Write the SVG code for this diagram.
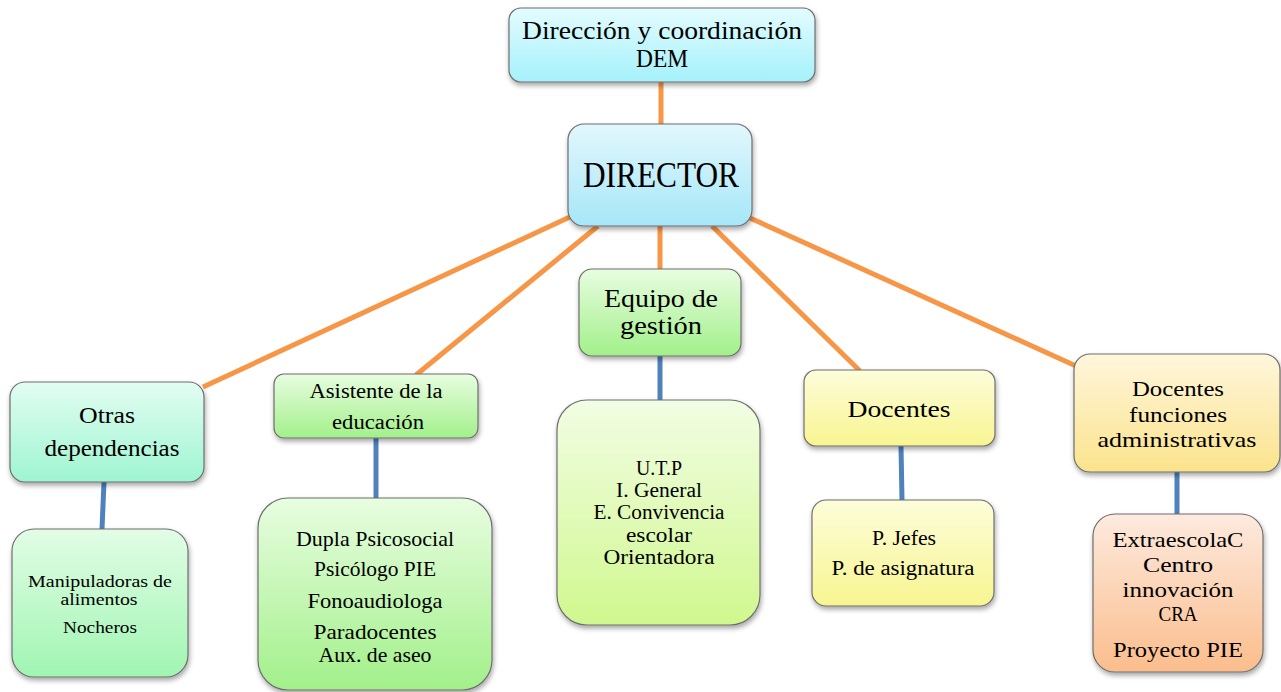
<svg xmlns="http://www.w3.org/2000/svg" width="1281" height="692" viewBox="0 0 1281 692">
<defs>
<style>
.t{font-family:"Liberation Serif","DejaVu Serif",serif;fill:#000;text-anchor:middle}
.box{stroke:#6e6e6e;stroke-width:1.2;filter:url(#sh)}
.oc{stroke:#f79646;stroke-width:5;fill:none}
.bc{stroke:#4f81bd;stroke-width:5;fill:none}
</style>
<filter id="sh" x="-10%" y="-10%" width="125%" height="130%">
<feDropShadow dx="1" dy="3" stdDeviation="2.5" flood-color="#000" flood-opacity="0.35"/>
</filter>
<linearGradient id="gCyan" x1="0" y1="0" x2="0" y2="1"><stop offset="0" stop-color="#e3fcff"/><stop offset="1" stop-color="#a5f1fb"/></linearGradient>
<linearGradient id="gBlue" x1="0" y1="0" x2="0" y2="1"><stop offset="0" stop-color="#e2f7fd"/><stop offset="1" stop-color="#a6e7f8"/></linearGradient>
<linearGradient id="gGreen" x1="0" y1="0" x2="0" y2="1"><stop offset="0" stop-color="#e8fde0"/><stop offset="1" stop-color="#a2f08a"/></linearGradient>
<linearGradient id="gMint" x1="0" y1="0" x2="0" y2="1"><stop offset="0" stop-color="#e2fdf1"/><stop offset="1" stop-color="#9ef5d2"/></linearGradient>
<linearGradient id="gMint2" x1="0" y1="0" x2="0" y2="1"><stop offset="0" stop-color="#e2fde6"/><stop offset="1" stop-color="#a0f5b2"/></linearGradient>
<linearGradient id="gLime" x1="0" y1="0" x2="0" y2="1"><stop offset="0" stop-color="#f2fde4"/><stop offset="1" stop-color="#d0f88e"/></linearGradient>
<linearGradient id="gYel" x1="0" y1="0" x2="0" y2="1"><stop offset="0" stop-color="#fdfdda"/><stop offset="1" stop-color="#f8f590"/></linearGradient>
<linearGradient id="gGold" x1="0" y1="0" x2="0" y2="1"><stop offset="0" stop-color="#fff6dc"/><stop offset="1" stop-color="#fbe38c"/></linearGradient>
<linearGradient id="gOr" x1="0" y1="0" x2="0" y2="1"><stop offset="0" stop-color="#fdeade"/><stop offset="1" stop-color="#fbbd8c"/></linearGradient>
</defs>
<rect width="1281" height="692" fill="#fff"/>
<g id="connectors">
<line class="oc" x1="661" y1="82" x2="661" y2="124"/>
<line class="oc" x1="572" y1="216" x2="203" y2="387"/>
<line class="oc" x1="598" y1="226" x2="416" y2="375"/>
<line class="oc" x1="660" y1="226" x2="660" y2="269"/>
<line class="oc" x1="712" y1="226" x2="860" y2="371"/>
<line class="oc" x1="750" y1="218" x2="1076" y2="366"/>
<line class="bc" x1="104" y1="482" x2="102" y2="529"/>
<line class="bc" x1="376" y1="438" x2="376" y2="498"/>
<line class="bc" x1="660" y1="356" x2="660" y2="400"/>
<line class="bc" x1="901" y1="446" x2="902" y2="500"/>
<line class="bc" x1="1177" y1="472" x2="1177" y2="514"/>
</g>
<g id="n-dem">
<rect class="box" x="509" y="8" width="306" height="74" rx="12" fill="url(#gCyan)"/>
<text class="t" font-size="26" x="662" y="39" textLength="280" lengthAdjust="spacingAndGlyphs">Dirección y coordinación</text>
<text class="t" font-size="26" x="662" y="67" textLength="52" lengthAdjust="spacingAndGlyphs">DEM</text>
</g>
<g id="n-director">
<rect class="box" x="568" y="124" width="184" height="102" rx="16" fill="url(#gBlue)"/>
<text class="t" font-size="35" x="661" y="187" textLength="156" lengthAdjust="spacingAndGlyphs">DIRECTOR</text>
</g>
<g id="n-equipo">
<rect class="box" x="579" y="269" width="162" height="87" rx="13" fill="url(#gGreen)"/>
<text class="t" font-size="25" x="661" y="307" textLength="114" lengthAdjust="spacingAndGlyphs">Equipo de</text>
<text class="t" font-size="25" x="661" y="334" textLength="82" lengthAdjust="spacingAndGlyphs">gestión</text>
</g>
<g id="n-otras">
<rect class="box" x="10" y="382" width="194" height="100" rx="15" fill="url(#gMint)"/>
<text class="t" font-size="23" x="107" y="423" textLength="56" lengthAdjust="spacingAndGlyphs">Otras</text>
<text class="t" font-size="23" x="112" y="456" textLength="135" lengthAdjust="spacingAndGlyphs">dependencias</text>
</g>
<g id="n-asistente">
<rect class="box" x="274" y="374" width="204" height="64" rx="10" fill="url(#gGreen)"/>
<text class="t" font-size="20" x="376" y="398" textLength="133" lengthAdjust="spacingAndGlyphs">Asistente de la</text>
<text class="t" font-size="20" x="378" y="429" textLength="92" lengthAdjust="spacingAndGlyphs">educación</text>
</g>
<g id="n-docentes">
<rect class="box" x="804" y="370" width="191" height="76" rx="12" fill="url(#gYel)"/>
<text class="t" font-size="23" x="899" y="417" textLength="103" lengthAdjust="spacingAndGlyphs">Docentes</text>
</g>
<g id="n-docfunc">
<rect class="box" x="1074" y="354" width="206" height="118" rx="16" fill="url(#gGold)"/>
<text class="t" font-size="21" x="1178" y="396" textLength="92" lengthAdjust="spacingAndGlyphs">Docentes</text>
<text class="t" font-size="21" x="1178" y="422" textLength="98" lengthAdjust="spacingAndGlyphs">funciones</text>
<text class="t" font-size="21" x="1177" y="447" textLength="159" lengthAdjust="spacingAndGlyphs">administrativas</text>
</g>
<g id="n-manip">
<rect class="box" x="12" y="529" width="176" height="148" rx="22" fill="url(#gMint2)"/>
<text class="t" font-size="17.5" x="100" y="587" textLength="144" lengthAdjust="spacingAndGlyphs">Manipuladoras de</text>
<text class="t" font-size="17.5" x="99" y="605" textLength="77" lengthAdjust="spacingAndGlyphs">alimentos</text>
<text class="t" font-size="17.5" x="100" y="633" textLength="74" lengthAdjust="spacingAndGlyphs">Nocheros</text>
</g>
<g id="n-dupla">
<rect class="box" x="258" y="498" width="234" height="192" rx="30" fill="url(#gGreen)"/>
<text class="t" font-size="21" x="375" y="546" textLength="158" lengthAdjust="spacingAndGlyphs">Dupla Psicosocial</text>
<text class="t" font-size="21" x="375" y="576" textLength="122" lengthAdjust="spacingAndGlyphs">Psicólogo PIE</text>
<text class="t" font-size="21" x="375" y="608" textLength="135" lengthAdjust="spacingAndGlyphs">Fonoaudiologa</text>
<text class="t" font-size="21" x="375" y="639" textLength="123" lengthAdjust="spacingAndGlyphs">Paradocentes</text>
<text class="t" font-size="21" x="375" y="662" textLength="113" lengthAdjust="spacingAndGlyphs">Aux. de aseo</text>
</g>
<g id="n-utp">
<rect class="box" x="557" y="400" width="203" height="225" rx="30" fill="url(#gLime)"/>
<text class="t" font-size="20" x="659" y="475" textLength="46" lengthAdjust="spacingAndGlyphs">U.T.P</text>
<text class="t" font-size="20" x="659" y="497" textLength="86" lengthAdjust="spacingAndGlyphs">I. General</text>
<text class="t" font-size="20" x="659" y="519" textLength="131" lengthAdjust="spacingAndGlyphs">E. Convivencia</text>
<text class="t" font-size="20" x="659" y="542" textLength="66" lengthAdjust="spacingAndGlyphs">escolar</text>
<text class="t" font-size="20" x="659" y="564" textLength="111" lengthAdjust="spacingAndGlyphs">Orientadora</text>
</g>
<g id="n-pjefes">
<rect class="box" x="812" y="500" width="182" height="106" rx="14" fill="url(#gYel)"/>
<text class="t" font-size="20" x="904" y="545" textLength="64" lengthAdjust="spacingAndGlyphs">P. Jefes</text>
<text class="t" font-size="20" x="903" y="575" textLength="143" lengthAdjust="spacingAndGlyphs">P. de asignatura</text>
</g>
<g id="n-extra">
<rect class="box" x="1093" y="514" width="170" height="158" rx="22" fill="url(#gOr)"/>
<text class="t" font-size="21" x="1178" y="547" textLength="131" lengthAdjust="spacingAndGlyphs">ExtraescolaC</text>
<text class="t" font-size="21" x="1178" y="572" textLength="70" lengthAdjust="spacingAndGlyphs">Centro</text>
<text class="t" font-size="21" x="1178" y="597" textLength="111" lengthAdjust="spacingAndGlyphs">innovación</text>
<text class="t" font-size="21" x="1178" y="621" textLength="39" lengthAdjust="spacingAndGlyphs">CRA</text>
<text class="t" font-size="21" x="1178" y="657" textLength="130" lengthAdjust="spacingAndGlyphs">Proyecto PIE</text>
</g>
</svg>
